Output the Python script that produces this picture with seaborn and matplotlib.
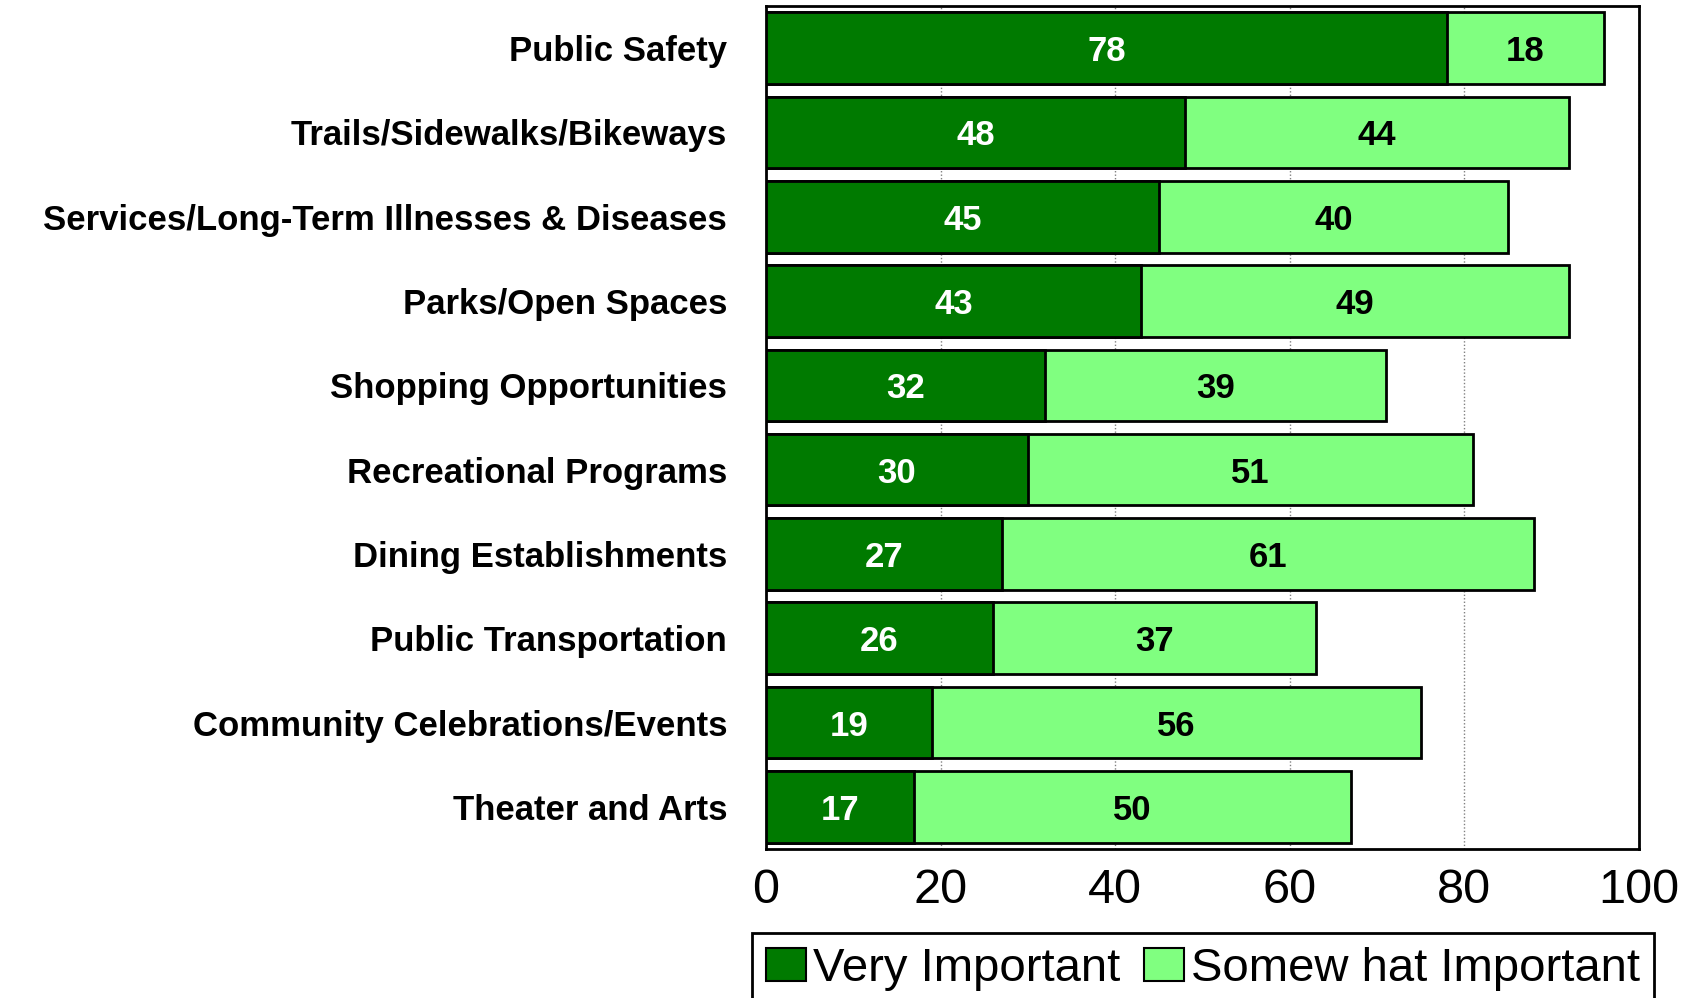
import matplotlib
matplotlib.use("Agg")
import matplotlib.pyplot as plt
import seaborn as sns
import pandas as pd
from matplotlib.patches import Patch

categories = ["Public Safety", "Trails/Sidewalks/Bikeways",
              "Services/Long-Term Illnesses & Diseases", "Parks/Open Spaces",
              "Shopping Opportunities", "Recreational Programs",
              "Dining Establishments", "Public Transportation",
              "Community Celebrations/Events", "Theater and Arts"]
very_important = [78, 48, 45, 43, 32, 30, 27, 26, 19, 17]
somewhat_important = [18, 44, 40, 49, 39, 51, 61, 37, 56, 50]
x_ticks = [0, 20, 40, 60, 80, 100]
series_names = ["Very Important", "Somew hat Important"]

DARK = "#007A00"
LIGHT = "#80FF80"

sns.set_theme(style="white")
plt.rcParams["font.family"] = ["Liberation Sans", "DejaVu Sans"]
plt.rcParams["text.color"] = "black"
plt.rcParams["xtick.color"] = "black"
plt.rcParams["ytick.color"] = "black"

df = pd.DataFrame({"category": categories,
                   "very": very_important,
                   "somewhat": somewhat_important})
df["total"] = df["very"] + df["somewhat"]

fig = plt.figure(figsize=(16.98, 9.98), dpi=100)
ax = fig.add_axes([766/1698, 1-849/998, (1639-766)/1698, (849-6)/998])

sns.barplot(data=df, y="category", x="total", orient="h", color=LIGHT,
            saturation=1, edgecolor="black", linewidth=2, width=0.85, ax=ax, zorder=2)
sns.barplot(data=df, y="category", x="very", orient="h", color=DARK,
            saturation=1, edgecolor="black", linewidth=2, width=0.85, ax=ax, zorder=3)

for i, (v, s) in enumerate(zip(very_important, somewhat_important)):
    ax.text(v / 2, i, str(v), ha="center", va="center_baseline", color="white",
            fontsize=25, fontweight="bold", zorder=5)
    ax.text(v + s / 2, i, str(s), ha="center", va="center_baseline", color="black",
            fontsize=25, fontweight="bold", zorder=5)

ax.set_xlim(0, 100)
ax.set_ylim(len(categories) - 0.5, -0.5)
ax.set_xticks(x_ticks)
ax.set_xticklabels([str(t) for t in x_ticks], fontsize=35)
ax.set_xlabel("")
ax.set_ylabel("")
ax.tick_params(axis="x", length=0, pad=14, colors="black")
ax.tick_params(axis="y", length=0, pad=28, colors="black")
for lab in ax.get_yticklabels():
    lab.set_fontsize(25)
    lab.set_fontweight("bold")
    lab.set_color("black")
ax.xaxis.grid(True, color="#808080", linestyle=(0, (1, 1.5)), linewidth=1, zorder=0)
ax.set_axisbelow(True)
for sp in ax.spines.values():
    sp.set_visible(True)
    sp.set_color("black")
    sp.set_linewidth(2)

handles = [Patch(facecolor=DARK, edgecolor="black", linewidth=1.5),
           Patch(facecolor=LIGHT, edgecolor="black", linewidth=1.5)]
leg = fig.legend(handles, series_names, loc="upper center",
                 bbox_to_anchor=(1203/1698, 1-933/998), ncol=2, frameon=True,
                 fancybox=False, edgecolor="black", framealpha=1,
                 prop={"size": 34},
                 handlelength=0.85, handleheight=0.7, handletextpad=0.15,
                 columnspacing=0.5, borderpad=0.3, borderaxespad=0)
leg.get_frame().set_linewidth(2)
for t in leg.get_texts():
    t.set_color("black")

fig.savefig("out.png", dpi=100)
